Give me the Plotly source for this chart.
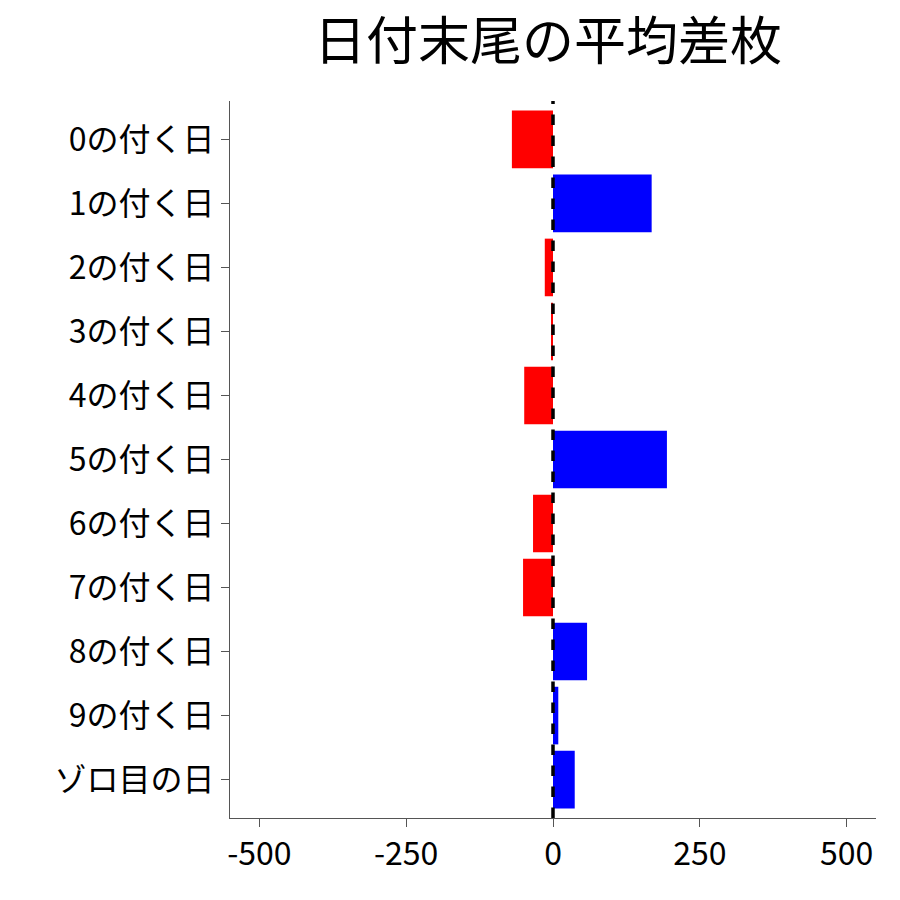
import plotly.graph_objects as go

categories = ["0の付く日","1の付く日","2の付く日","3の付く日","4の付く日","5の付く日",
              "6の付く日","7の付く日","8の付く日","9の付く日","ゾロ目の日"]
values = [-70, 168, -14, -3, -49, 194, -34, -51, 58, 9, 37]
tickvals = [-500, -250, 0, 250, 500]
ticktext = ["-500", "-250", "0", "250", "500"]
colors = ["blue" if v > 0 else "red" for v in values]

fig = go.Figure(go.Bar(x=values, y=categories, orientation="h",
                       marker=dict(color=colors, line=dict(width=0)), width=0.9))
fig.add_shape(type="line", x0=0, x1=0, xref="x", y0=0, y1=1, yref="paper",
              line=dict(color="black", width=3.5, dash="dash"))
fig.update_layout(
    width=900, height=900, plot_bgcolor="white", paper_bgcolor="white",
    font=dict(family="Noto Sans CJK JP", color="black", size=32),
    title=dict(text="日付末尾の平均差枚", x=0.6, xanchor="center", y=0.962,
               yanchor="middle", font=dict(size=52)),
    margin=dict(l=222, r=32, t=93, b=90),
    showlegend=False,
    xaxis=dict(range=[-550, 550], tickvals=tickvals, ticktext=ticktext,
               showgrid=False, zeroline=False, showline=True, linecolor="#555",
               ticks="outside", ticklen=8, tickcolor="#555"),
    yaxis=dict(categoryorder="array", categoryarray=categories,
               range=[10.6, -0.6], showgrid=False, zeroline=False,
               showline=True, linecolor="#555", ticks="outside", ticklen=8,
               tickcolor="#555"),
)
fig.write_html("out.html")
